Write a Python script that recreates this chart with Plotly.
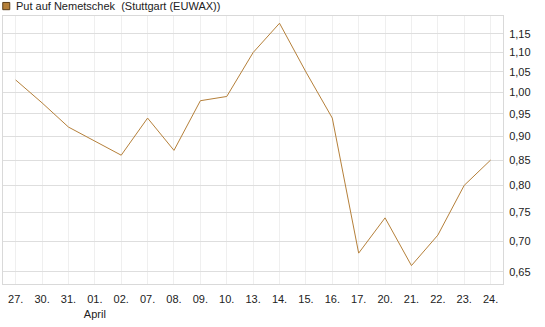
import plotly.graph_objects as go
import math

dates = ["27.", "30.", "31.", "01.<br>April", "02.", "07.", "08.", "09.", "10.", "13.",
         "14.", "15.", "16.", "17.", "20.", "21.", "22.", "23.", "24."]
values = [1.03, 0.975, 0.92, 0.89, 0.86, 0.94, 0.87, 0.98, 0.99, 1.10,
          1.18, 1.05, 0.94, 0.68, 0.74, 0.66, 0.71, 0.80, 0.85]
yticks = [0.65, 0.70, 0.75, 0.80, 0.85, 0.90, 0.95, 1.00, 1.05, 1.10, 1.15]
series_name = "Put auf Nemetschek\u00a0\u00a0(Stuttgart (EUWAX))"

line_color = "#b5803a"
xs = list(range(len(dates)))

fig = go.Figure()
fig.add_trace(go.Scatter(x=xs, y=values, mode="lines", name=series_name,
                         line=dict(color=line_color, width=1),
                         showlegend=False, hoverinfo="skip"))

font = dict(family="Liberation Sans, Arial, sans-serif", size=11, color="#222222")

# legend (drawn as a swatch + text above the plot area)
fig.add_shape(type="rect", xref="paper", yref="paper",
              x0=-0.0005, x1=0.0135, y0=1.0235, y1=1.0505,
              fillcolor=line_color, line=dict(color="#5a3e1a", width=1))
fig.add_annotation(text=series_name, xref="paper", yref="paper",
                   x=0.021, y=1.037, xanchor="left", yanchor="middle",
                   showarrow=False, font=font)

fig.update_layout(
    width=545, height=327,
    margin=dict(l=3, r=42, t=16, b=43, autoexpand=False),
    paper_bgcolor="white", plot_bgcolor="white",
    font=font,
    separators=",.",
    showlegend=False,
    xaxis=dict(
        tickmode="array", tickvals=xs, ticktext=dates, tickangle=0,
        range=[-0.48, 18.47],
        showgrid=True, gridcolor="#efefef", gridwidth=1,
        showline=True, linecolor="#d9d9d9", linewidth=1, mirror=True,
        ticks="outside", ticklen=5, tickcolor="rgba(0,0,0,0)",
        zeroline=False, fixedrange=True,
    ),
    yaxis=dict(
        type="log", side="right",
        tickmode="array", tickvals=yticks,
        ticktext=[f"{v:.2f}".replace(".", ",") for v in yticks],
        range=[math.log10(0.6315), math.log10(1.2007)],
        showgrid=True, gridcolor="#dedede", gridwidth=1,
        showline=True, linecolor="#d9d9d9", linewidth=1, mirror=True,
        ticks="outside", ticklen=3, tickcolor="rgba(0,0,0,0)",
        zeroline=False, fixedrange=True,
    ),
)

fig.write_html("out.html")
